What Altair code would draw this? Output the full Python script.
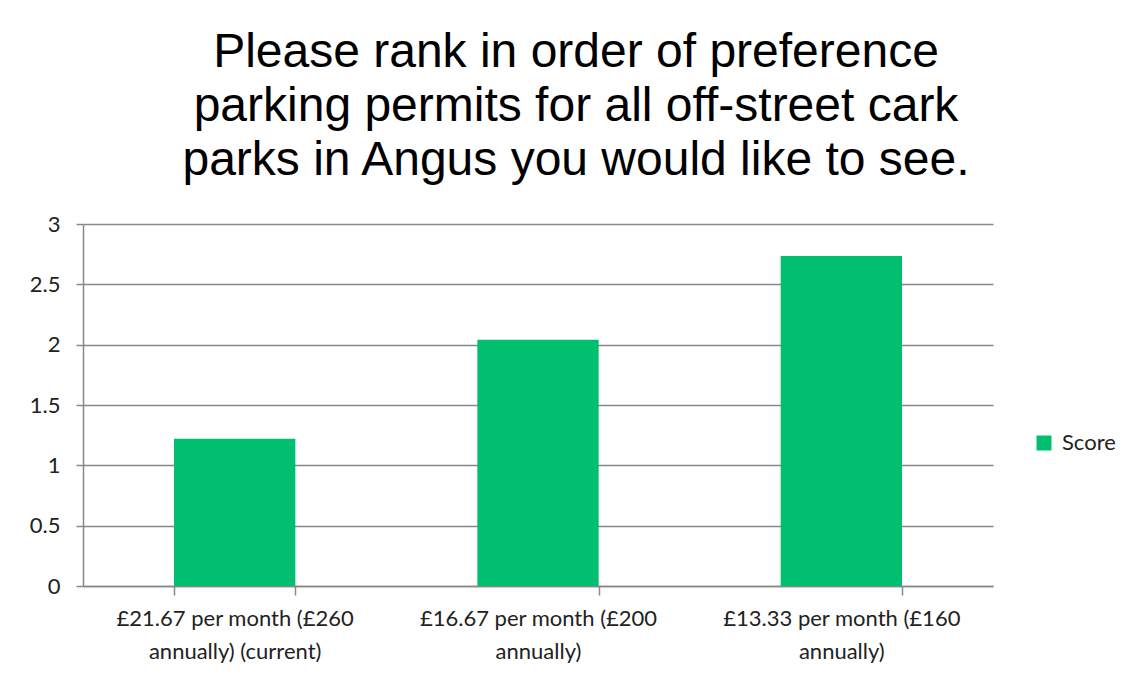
import altair as alt
import pandas as pd

categories = [
    "£21.67 per month (£260\nannually) (current)",
    "£16.67 per month (£200\nannually)",
    "£13.33 per month (£160\nannually)",
]
scores = [1.22, 2.04, 2.735]
series = ["Score"] * 3

df = pd.DataFrame({"Option": categories, "Score": scores, "Series": series})

font = "Lato"

chart = alt.Chart(df).mark_bar(color="#00BF6F").encode(
    x=alt.X(
        "Option:N",
        sort=categories,
        title=None,
        scale=alt.Scale(paddingInner=0.6, paddingOuter=0.3),
        axis=alt.Axis(
            labelAngle=0,
            labelExpr="split(datum.label, '\\n')",
            labelFont=font,
            labelFontSize=22,
            labelColor="#222222",
            labelLineHeight=33,
            labelPadding=13,
            labelLimit=400,
            tickBand="extent",
            tickSize=9,
            tickColor="#888888",
            tickWidth=1.5,
            domainColor="#888888",
            domainWidth=1.5,
            grid=False,
        ),
    ),
    y=alt.Y(
        "Score:Q",
        title=None,
        scale=alt.Scale(domain=[0, 3], nice=False),
        axis=alt.Axis(
            values=[0, 0.5, 1, 1.5, 2, 2.5, 3],
            format="~g",
            labelFont=font,
            labelFontSize=22,
            labelColor="#222222",
            labelPadding=16,
            tickSize=7,
            tickColor="#888888",
            tickWidth=1.5,
            domainColor="#888888",
            domainWidth=1.5,
            gridColor="#888888",
            gridWidth=1.5,
        ),
    ),
    fill=alt.Fill(
        "Series:N",
        scale=alt.Scale(range=["#00BF6F"]),
        legend=alt.Legend(
            title=None,
            orient="none",
            legendX=950,
            legendY=208,
            padding=0,
            symbolType="square",
            symbolSize=225,
            symbolStrokeWidth=0,
            labelFont=font,
            labelFontSize=22,
            labelColor="#222222",
            labelOffset=7,
        ),
    ),
).properties(
    width=910,
    height=362,
    autosize=alt.AutoSizeParams(type="none"),
    padding={"left": 75, "top": 216, "right": 132, "bottom": 88},
    title=alt.Title(
        text=[
            "Please rank in order of preference",
            "parking permits for all off-street cark",
            "parks in Angus you would like to see.",
        ],
        font="Liberation Sans",
        fontSize=48,
        fontWeight="normal",
        color="#000000",
        lineHeight=54,
        anchor="middle",
        frame="group",
        dx=38,
        offset=28,
    ),
).configure_view(stroke=None)

chart.save("out.html", embed_options={"renderer": "svg", "actions": False})
